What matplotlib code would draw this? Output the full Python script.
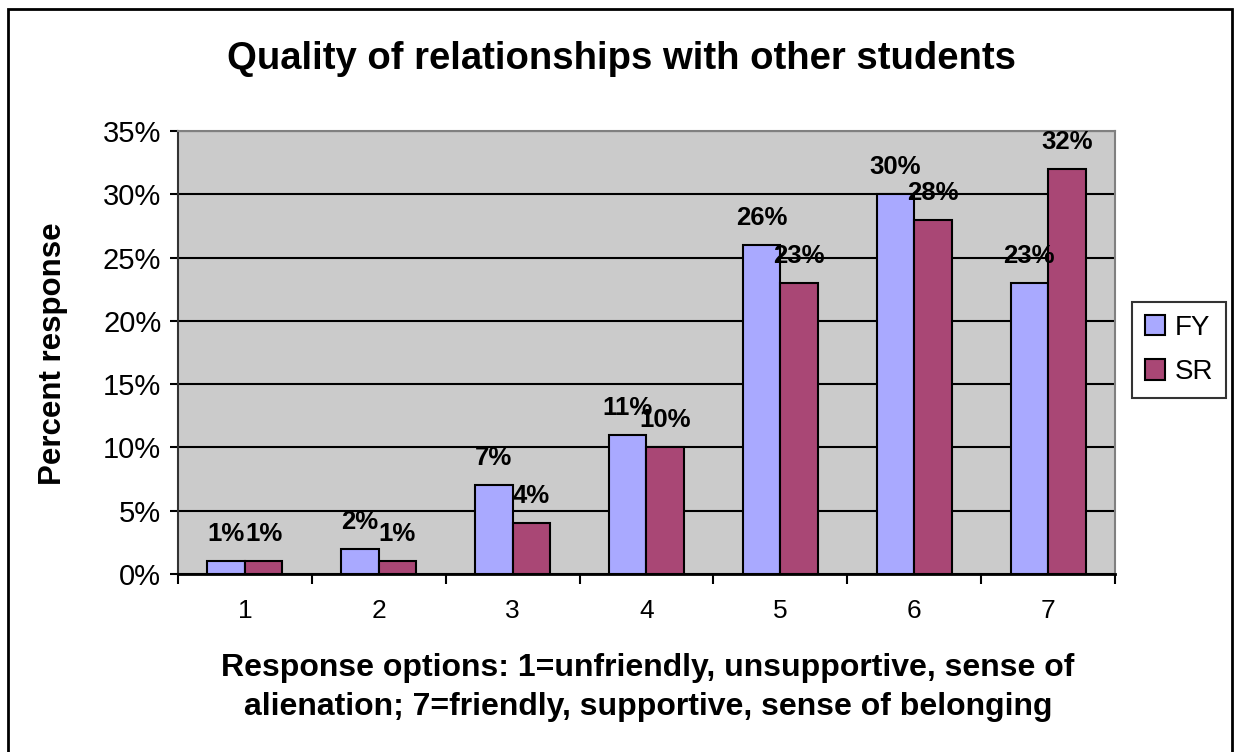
import numpy as np
import matplotlib.pyplot as plt
from matplotlib.patches import Rectangle
from matplotlib.ticker import FuncFormatter, FixedLocator

# data
categories = ["1", "2", "3", "4", "5", "6", "7"]
fy_values = [1, 2, 7, 11, 26, 30, 23]
sr_values = [1, 1, 4, 10, 23, 28, 32]
series_names = ["FY", "SR"]

plt.rcParams["font.family"] = ["Liberation Sans", "DejaVu Sans"]

fig = plt.figure(figsize=(12.35, 7.52), dpi=100)
ax = fig.add_axes([0.1441, 0.2367, 0.7587, 0.5891])

x = np.arange(len(categories))
w = 0.28
bars_fy = ax.bar(x - w / 2, fy_values, w, color="#A9A9FF", edgecolor="black",
                 linewidth=1.5, label=series_names[0], zorder=3)
bars_sr = ax.bar(x + w / 2, sr_values, w, color="#A94775", edgecolor="black",
                 linewidth=1.5, label=series_names[1], zorder=3)

# value labels above each bar
for bars, vals in ((bars_fy, fy_values), (bars_sr, sr_values)):
    for b, v in zip(bars, vals):
        ax.annotate(f"{v}%", (b.get_x() + b.get_width() / 2, v),
                    xytext=(0, 14.4), textcoords="offset points",
                    ha="center", va="baseline", fontsize=18.5,
                    fontweight="bold", zorder=5)

ax.set_xlim(-0.5, len(categories) - 0.5)
ax.set_ylim(0, 35)
ax.set_facecolor("#CBCBCB")
ax.yaxis.set_major_locator(FixedLocator(range(0, 36, 5)))
ax.yaxis.set_major_formatter(FuncFormatter(lambda v, p: f"{v:.0f}%"))
ax.grid(axis="y", color="black", linewidth=1.5, zorder=1)
ax.set_axisbelow(True)

ax.set_xticks(x)
ax.set_xticklabels(categories)
ax.set_xticks(np.arange(-0.5, len(categories)), minor=True)
ax.tick_params(axis="x", which="major", length=0, labelsize=19, pad=18)
ax.tick_params(axis="x", which="minor", length=7, width=1.5, direction="out")
ax.tick_params(axis="y", length=6, width=1.5, labelsize=21, pad=6)

for side in ("top", "right"):
    ax.spines[side].set_color("#808080")
    ax.spines[side].set_linewidth(1.5)
ax.spines["left"].set_color("#333333")
ax.spines["left"].set_linewidth(1.5)
ax.spines["bottom"].set_linewidth(2)

fig.text(0.5036, 0.921, "Quality of relationships with other students",
         ha="center", va="center", fontsize=27.5, fontweight="bold")
fig.text(0.5247, 0.086,
         "Response options: 1=unfriendly, unsupportive, sense of\n"
         "alienation; 7=friendly, supportive, sense of belonging",
         ha="center", va="center", fontsize=23, fontweight="bold",
         linespacing=1.38)
fig.text(0.043, 0.53, "Percent response", rotation=90, ha="center",
         va="center", fontsize=22.5, fontweight="bold")

leg = fig.legend(loc="center left", bbox_to_anchor=(1132 / 1235, 1 - 350 / 752),
                 fontsize=20, frameon=True, fancybox=False, handlelength=0.75,
                 handleheight=0.75, handletextpad=0.35, borderpad=0.45,
                 labelspacing=0.65, borderaxespad=0)
leg.get_frame().set_edgecolor("black")
leg.get_frame().set_linewidth(1.5)

# outer chart border
fig.patches.append(Rectangle((8 / 1235, -0.02), 1224 / 1235, 1.02 - 9 / 752,
                             transform=fig.transFigure, fill=False,
                             edgecolor="black", linewidth=2))

fig.savefig("out.png", dpi=100)
